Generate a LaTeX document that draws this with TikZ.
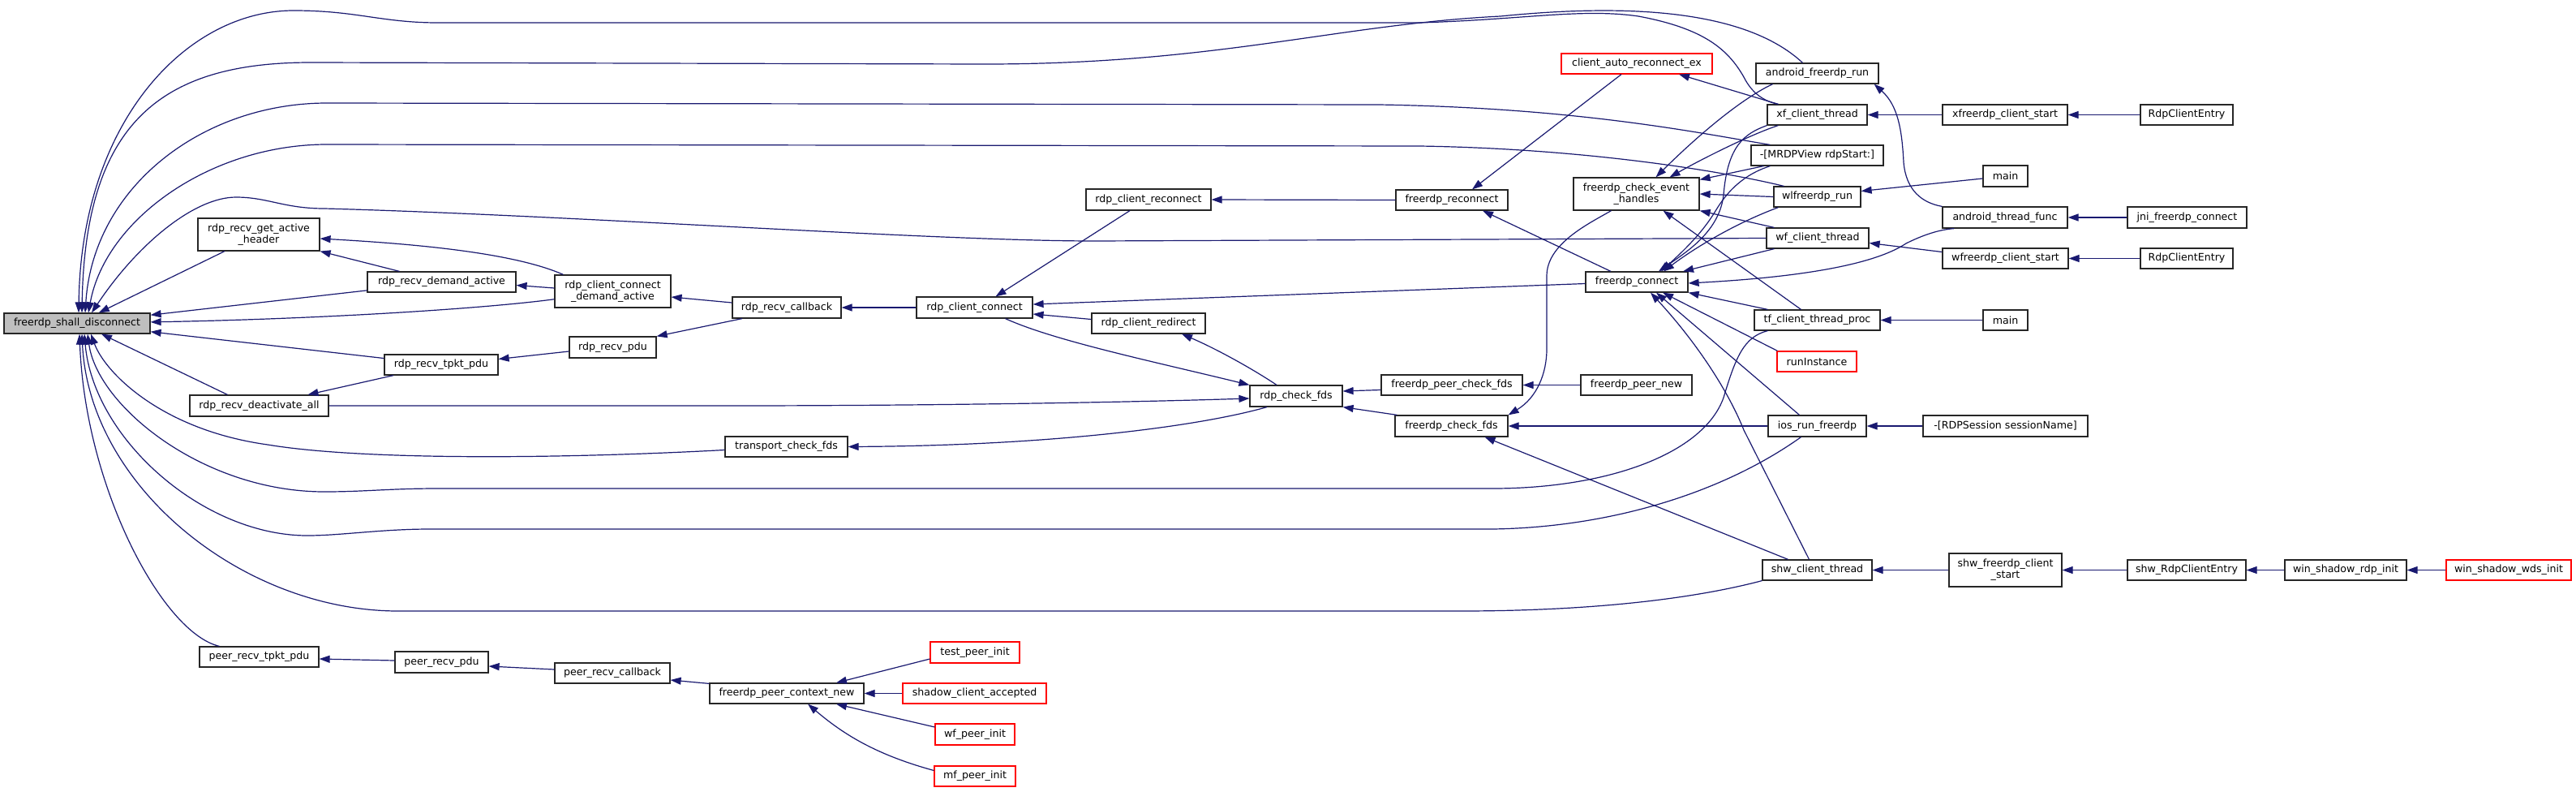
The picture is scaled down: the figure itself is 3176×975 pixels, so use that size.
\documentclass[tikz,border=0pt]{standalone}
\usepackage{fontspec}
\newfontfamily\dxf{DejaVu Sans}
\usetikzlibrary{arrows.meta}
\definecolor{navyc}{HTML}{191970}
\definecolor{grayf}{HTML}{BFBFBF}
\begin{document}
\begin{tikzpicture}[x=1pt,y=-1pt,
  box/.style={draw=black!85,fill=white,line width=1.2pt,inner sep=0pt,align=center,
    font=\dxf\fontsize{12.6}{14.3}\selectfont},
  rbox/.style={box,draw=red},
  cl/.style={draw=navyc,line width=1.2pt,{Triangle[length=13pt,width=9pt]}-}]
\useasboundingbox[fill=white] (0,0) rectangle (3176,975);
% nodes
\node[box,fill=grayf,minimum width=180pt,minimum height=25pt] (fsd) at (95,398.5) {freerdp\_shall\_disconnect};
\node[box,minimum width=150pt,minimum height=40pt] (grah) at (319,289) {rdp\_recv\_get\_active\\\_header};
\node[box,minimum width=183pt,minimum height=25pt] (rda) at (544.5,347.5) {rdp\_recv\_demand\_active};
\node[box,minimum width=143pt,minimum height=40pt] (rccda) at (755.5,359) {rdp\_client\_connect\\\_demand\_active};
\node[box,minimum width=140pt,minimum height=25pt] (rtp) at (544,449.5) {rdp\_recv\_tpkt\_pdu};
\node[box,minimum width=171pt,minimum height=26pt] (rdall) at (319.5,500) {rdp\_recv\_deactivate\_all};
\node[box,minimum width=107pt,minimum height=26pt] (rpdu) at (755.5,428) {rdp\_recv\_pdu};
\node[box,minimum width=134pt,minimum height=26pt] (rcb) at (970,379) {rdp\_recv\_callback};
\node[box,minimum width=143pt,minimum height=26pt] (rcc) at (1201.5,379) {rdp\_client\_connect};
\node[box,minimum width=154pt,minimum height=26pt] (rcr) at (1416,246) {rdp\_client\_reconnect};
\node[box,minimum width=140pt,minimum height=25pt] (rcred) at (1416,398.5) {rdp\_client\_redirect};
\node[box,minimum width=151pt,minimum height=25pt] (tcf) at (969.5,550.5) {transport\_check\_fds};
\node[box,minimum width=114pt,minimum height=26pt] (rcf) at (1598,488) {rdp\_check\_fds};
\node[box,minimum width=174pt,minimum height=25pt] (fpcf) at (1790,474.5) {freerdp\_peer\_check\_fds};
\node[box,minimum width=139pt,minimum height=26pt] (fcf) at (1789.5,525) {freerdp\_check\_fds};
\node[box,minimum width=138pt,minimum height=25pt] (frec) at (1790,246.5) {freerdp\_reconnect};
\node[rbox,minimum width=186pt,minimum height=25pt] (care) at (2018,78.5) {client\_auto\_reconnect\_ex};
\node[box,minimum width=155pt,minimum height=40pt] (fceh) at (2017.5,239) {freerdp\_check\_event\\\_handles};
\node[box,minimum width=126pt,minimum height=25pt] (fcon) at (2018,347.5) {freerdp\_connect};
\node[box,minimum width=137pt,minimum height=25pt] (fpn) at (2017.5,474.5) {freerdp\_peer\_new};
\node[box,minimum width=151pt,minimum height=25pt] (afr) at (2240.5,90.5) {android\_freerdp\_run};
\node[box,minimum width=123pt,minimum height=25pt] (xfct) at (2240.5,141.5) {xf\_client\_thread};
\node[box,minimum width=163pt,minimum height=25pt] (mrdp) at (2240.5,191.5) {-[MRDPView rdpStart:]};
\node[box,minimum width=107pt,minimum height=25pt] (wlr) at (2240.5,242.5) {wlfreerdp\_run};
\node[box,minimum width=126pt,minimum height=25pt] (wfct) at (2241,293.5) {wf\_client\_thread};
\node[box,minimum width=155pt,minimum height=25pt] (tfct) at (2240.5,394.5) {tf\_client\_thread\_proc};
\node[rbox,minimum width=98pt,minimum height=25pt] (runi) at (2240,445.5) {runInstance};
\node[box,minimum width=121pt,minimum height=26pt] (ios) at (2240.5,525) {ios\_run\_freerdp};
\node[box,minimum width=135pt,minimum height=25pt] (shwct) at (2240.5,702.5) {shw\_client\_thread};
\node[box,minimum width=154pt,minimum height=25pt] (xfcs) at (2472,141.5) {xfreerdp\_client\_start};
\node[box,minimum width=55pt,minimum height=26pt] (main1) at (2472.5,217) {main};
\node[box,minimum width=154pt,minimum height=26pt] (atf) at (2472,268) {android\_thread\_func};
\node[box,minimum width=155pt,minimum height=25pt] (wfcs) at (2472.5,318.5) {wfreerdp\_client\_start};
\node[box,minimum width=55pt,minimum height=25pt] (main2) at (2472.5,394.5) {main};
\node[box,minimum width=203pt,minimum height=26pt] (rdps) at (2472.5,525) {-[RDPSession sessionName]};
\node[box,minimum width=139pt,minimum height=41pt] (shwfcs) at (2472.5,702.5) {shw\_freerdp\_client\\\_start};
\node[box,minimum width=114pt,minimum height=25pt] (rce1) at (2696,141.5) {RdpClientEntry};
\node[box,minimum width=147pt,minimum height=26pt] (jni) at (2696.5,268) {jni\_freerdp\_connect};
\node[box,minimum width=114pt,minimum height=25pt] (rce2) at (2696,318.5) {RdpClientEntry};
\node[box,minimum width=146pt,minimum height=25pt] (shwrce) at (2696,702.5) {shw\_RdpClientEntry};
\node[box,minimum width=150pt,minimum height=25pt] (wsri) at (2892,702.5) {win\_shadow\_rdp\_init};
\node[rbox,minimum width=154pt,minimum height=25pt] (wswi) at (3093,702.5) {win\_shadow\_wds\_init};
\node[box,minimum width=147pt,minimum height=25pt] (prtp) at (319.5,809.5) {peer\_recv\_tpkt\_pdu};
\node[box,minimum width=115pt,minimum height=26pt] (prp) at (544.5,816) {peer\_recv\_pdu};
\node[box,minimum width=142pt,minimum height=25pt] (prcb) at (755,829.5) {peer\_recv\_callback};
\node[box,minimum width=190pt,minimum height=25pt] (fpcn) at (970,854.5) {freerdp\_peer\_context\_new};
\node[rbox,minimum width=110pt,minimum height=26pt] (tpi) at (1202,804) {test\_peer\_init};
\node[rbox,minimum width=177pt,minimum height=25pt] (sca) at (1201.5,854.5) {shadow\_client\_accepted};
\node[rbox,minimum width=98pt,minimum height=26pt] (wfpi) at (1202,905) {wf\_peer\_init};
\node[rbox,minimum width=100pt,minimum height=25pt] (mfpi) at (1202,956.5) {mf\_peer\_init};
% edges into freerdp_shall_disconnect
\draw[cl] (fsd) -- (grah);
\draw[cl] (fsd) -- (rda);
\draw[cl] (fsd) .. controls (400,393) and (600,380) .. (rccda);
\draw[cl] (fsd) -- (rtp);
\draw[cl] ([xshift=30pt]fsd.south) -- ([xshift=-39pt]rdall.north);
\draw[cl] ([xshift=2pt]fsd.north) .. controls (100,150) and (230,13) .. (362,13) .. controls (440,13) and (470,28) .. (540,28) -- (1750,28) .. controls (1880,24) and (1950,10) .. (2020,20) .. controls (2100,35) and (2130,60) .. (2150,95) .. controls (2160,115) and (2175,125) .. ([xshift=14pt]xfct.north west);
\draw[cl] ([xshift=6pt]fsd.north) .. controls (105,150) and (200,77) .. (383,77) -- (1215,79) .. controls (1500,79) and (1650,30) .. (1850,20) .. controls (2000,5) and (2150,10) .. ([xshift=-18pt]afr.north);
\draw[cl] ([xshift=10pt]fsd.north) .. controls (115,230) and (250,127) .. (403,127) -- (1700,129) .. controls (1950,133) and (2100,165) .. ([xshift=24pt]mrdp.north west);
\draw[cl] ([xshift=14pt]fsd.north) .. controls (130,270) and (260,178) .. (403,178) -- (1750,180) .. controls (1950,183) and (2120,210) .. ([xshift=13pt]wlr.north west);
\draw[cl] ([xshift=18pt]fsd.north) .. controls (170,300) and (240,243) .. (291,243) .. controls (330,243) and (350,257) .. (400,257) .. controls (700,265) and (1150,297) .. (1350,297) -- (wfct.west);
\draw[cl] ([xshift=3pt]fsd.south) .. controls (105,600) and (200,780) .. ([xshift=-49pt]prtp.north);
\draw[cl] ([xshift=6pt]fsd.south) .. controls (110,600) and (300,753) .. (491,753) -- (1800,753) .. controls (1950,753) and (2080,740) .. (shwct.south west);
\draw[cl] ([xshift=9pt]fsd.south) .. controls (115,540) and (250,660) .. (379,660) .. controls (420,660) and (470,652) .. (530,652) -- (1840,652) .. controls (1980,650) and (2120,610) .. ([xshift=-20pt]ios.south);
\draw[cl] ([xshift=13pt]fsd.south) .. controls (120,500) and (250,606) .. (400,606) .. controls (450,606) and (480,602) .. (540,602) -- (1840,602) .. controls (1980,602) and (2100,560) .. (2125,490) .. controls (2140,440) and (2150,415) .. ([xshift=17pt]tfct.south west);
\draw[cl] ([xshift=17pt]fsd.south) .. controls (130,460) and (200,530) .. (330,548) .. controls (450,568) and (700,565) .. ([yshift=-4pt]tcf.west);
% left cluster
\draw[cl] (grah.south east) -- ([xshift=-52pt]rda.north);
\draw[cl] ([yshift=-5pt]grah.east) .. controls (500,300) and (630,310) .. ([xshift=-61pt]rccda.north);
\draw[cl] ([yshift=-4pt]rda.east) -- ([yshift=4pt]rccda.west);
\draw[cl] ([yshift=7pt]rtp.east) -- ([yshift=-5pt]rpdu.west);
\draw[cl] ([xshift=60pt]rdall.north) -- ([xshift=-59pt]rtp.south);
\draw[cl] ([yshift=-3pt]rcf.west) .. controls (1350,497) and (1100,500) .. (900,500) -- (rdall.east);
\draw[cl] (tcf.east) .. controls (1300,549) and (1480,525) .. ([xshift=-36pt]rcf.south);
\draw[cl] (rcf.north west) .. controls (1420,445) and (1300,420) .. ([xshift=38pt]rcc.south);
\draw[cl] ([xshift=41pt]rcred.south) .. controls (1500,430) and (1545,455) .. ([xshift=-24pt]rcf.north);
\draw[cl] ([yshift=-8pt]rcc.east) -- ([yshift=5pt]rcred.west);
\draw[cl] ([xshift=26pt]rcc.north) -- ([xshift=-23pt]rcr.south);
\draw[cl] (rcr.east) -- (frec.west);
\draw[cl] ([yshift=4pt]rcc.east) -- ([yshift=-2pt]fcon.west);
\draw[cl] ([yshift=-7pt]rccda.east) -- ([yshift=6pt]rcb.west);
\draw[cl] (rpdu.north east) -- ([xshift=-55pt]rcb.south);
\draw[cl] (rcb.east) -- (rcc.west);
\draw[cl] ([yshift=6pt]rcf.east) -- ([yshift=-6pt]fpcf.west);
\draw[cl] (rcf.south east) -- ([xshift=3pt]fcf.north west);
\draw[cl] (fpcf.east) -- (fpn.west);
\draw[cl] (fcf.north east) .. controls (1895,490) and (1907,460) .. (1907,430) -- (1907,340) .. controls (1907,300) and (1960,275) .. ([xshift=-31pt]fceh.south);
\draw[cl] (fcf.east) -- (ios.west);
\draw[cl] ([xshift=41pt]fcf.south) -- ([xshift=-36pt]shwct.north);
\draw[cl] ([xshift=25pt]frec.north) -- ([xshift=-19pt]care.south);
\draw[cl] ([xshift=38pt]frec.south) -- ([xshift=-32pt]fcon.north);
\draw[cl] ([xshift=52pt]care.south) -- ([xshift=14pt]xfct.north west);
% freerdp_check_event_handles
\draw[cl] ([xshift=24pt]fceh.north) .. controls (2080,180) and (2140,125) .. ([xshift=-55pt]afr.south);
\draw[cl] ([xshift=41pt]fceh.north) .. controls (2100,195) and (2160,165) .. ([xshift=-48pt]xfct.south);
\draw[cl] ([yshift=-3pt]fceh.north east) -- ([xshift=16pt]mrdp.south west);
\draw[cl] (fceh.east) -- (wlr.west);
\draw[cl] (fceh.south east) -- ([xshift=10pt]wfct.north west);
\draw[cl] ([xshift=33pt]fceh.south) -- ([xshift=-20pt]tfct.north);
% freerdp_connect
\draw[cl] ([xshift=27pt]fcon.north) .. controls (2080,310) and (2120,285) .. (2125,240) .. controls (2130,180) and (2150,165) .. (xfct.south west);
\draw[cl] ([xshift=30pt]fcon.north) .. controls (2080,305) and (2100,285) .. (2115,260) .. controls (2130,235) and (2150,215) .. ([xshift=24pt]mrdp.south west);
\draw[cl] ([xshift=33pt]fcon.north) .. controls (2090,305) and (2140,275) .. ([xshift=6pt]wlr.south west);
\draw[cl] ([xshift=57pt]fcon.north) -- ([xshift=10pt]wfct.south west);
\draw[cl] ([yshift=-1.5pt]fcon.east) .. controls (2250,340) and (2320,320) .. (2350,300) .. controls (2370,290) and (2390,283) .. ([xshift=15pt]atf.south west);
\draw[cl] (fcon.south east) -- ([xshift=17pt]tfct.north west);
\draw[cl] ([xshift=32pt]fcon.south) -- ([xshift=1pt]runi.north west);
\draw[cl] ([xshift=24pt]fcon.south) -- ([xshift=-22pt]ios.north);
\draw[cl] ([xshift=17pt]fcon.south) .. controls (2090,420) and (2130,480) .. (2150,530) -- ([xshift=-10pt]shwct.north);
% right side
\draw[cl] ([xshift=-6pt]afr.south east) .. controls (2340,130) and (2345,160) .. (2347,200) .. controls (2350,235) and (2370,250) .. (atf.north west);
\draw[cl] (xfct.east) -- (xfcs.west);
\draw[cl] ([yshift=7pt]wlr.east) -- ([yshift=-3pt]main1.west);
\draw[cl] ([yshift=-6pt]wfct.east) -- ([yshift=8pt]wfcs.west);
\draw[cl] (tfct.east) -- (main2.west);
\draw[cl] (xfcs.east) -- (rce1.west);
\draw[cl] (atf.east) -- (jni.west);
\draw[cl] (wfcs.east) -- (rce2.west);
\draw[cl] (ios.east) -- (rdps.west);
\draw[cl] (shwct.east) -- (shwfcs.west);
\draw[cl] (shwfcs.east) -- (shwrce.west);
\draw[cl] (shwrce.east) -- (wsri.west);
\draw[cl] (wsri.east) -- (wswi.west);
% peer chain
\draw[cl] ([yshift=-2.5pt]prtp.east) -- ([yshift=2pt]prp.west);
\draw[cl] ([yshift=-5pt]prp.east) -- ([yshift=4.5pt]prcb.west);
\draw[cl] ([yshift=-8.5pt]prcb.east) -- ([yshift=-1pt]fpcn.north west);
\draw[cl] ([xshift=61pt]fpcn.north) -- ([yshift=-8pt]tpi.west);
\draw[cl] (fpcn.east) -- (sca.west);
\draw[cl] ([xshift=61pt]fpcn.south) -- ([yshift=9pt]wfpi.west);
\draw[cl] ([xshift=26pt]fpcn.south) .. controls (1040,905) and (1080,930) .. ([yshift=7pt]mfpi.west);
\end{tikzpicture}
\end{document}
